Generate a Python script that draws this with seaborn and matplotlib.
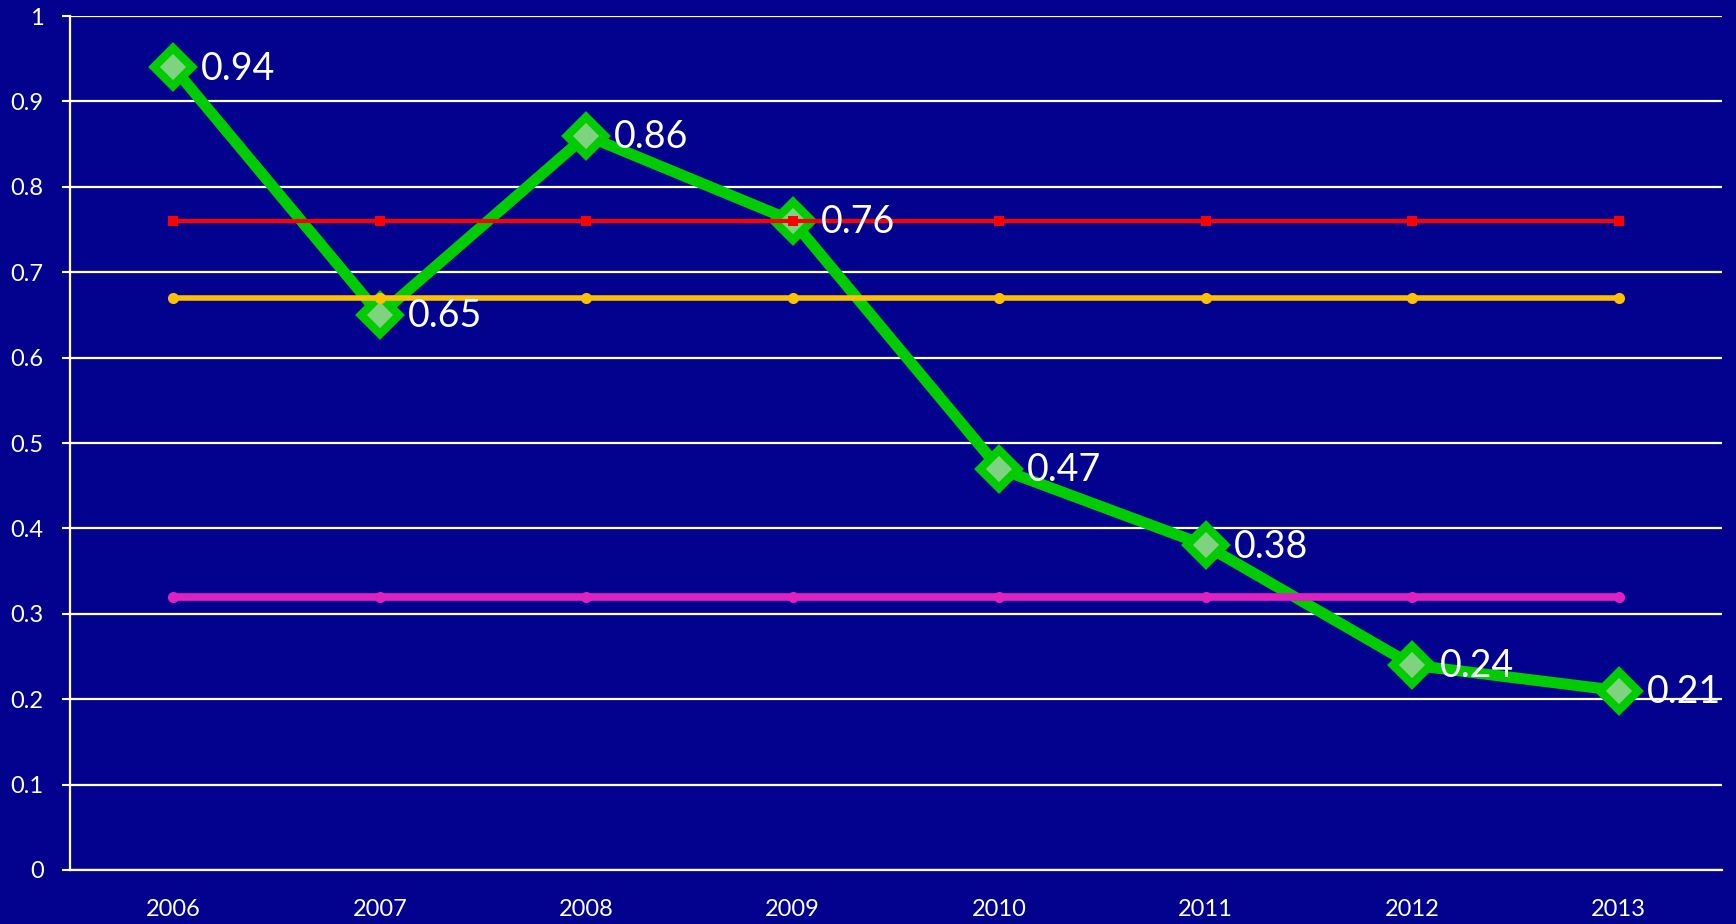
import numpy as np
import pandas as pd
import matplotlib
matplotlib.use("Agg")
import matplotlib.pyplot as plt
import seaborn as sns

# ---------------------------------------------------------------------------
# Data
# ---------------------------------------------------------------------------
years = [2006, 2007, 2008, 2009, 2010, 2011, 2012, 2013]
main_values = [0.94, 0.65, 0.86, 0.76, 0.47, 0.38, 0.24, 0.21]
red_values = [0.76] * 8
yellow_values = [0.67] * 8
magenta_values = [0.32] * 8
y_ticks = [0, 0.1, 0.2, 0.3, 0.4, 0.5, 0.6, 0.7, 0.8, 0.9, 1]
y_tick_labels = ["0", "0.1", "0.2", "0.3", "0.4", "0.5", "0.6", "0.7", "0.8", "0.9", "1"]

bg = "#03028F"

sns.set_style("white")
plt.rcParams['font.family'] = ['Lato', 'DejaVu Sans']

fig = plt.figure(figsize=(17.36, 9.24), dpi=100, facecolor=bg)
ax = fig.add_axes([70 / 1736, 1 - 870 / 924, (1722 - 70) / 1736, (870 - 16) / 924])
ax.set_facecolor(bg)

df = pd.DataFrame({"year": years, "main": main_values, "red": red_values,
                   "yellow": yellow_values, "magenta": magenta_values})

# green series (drawn first, the flat lines sit on top of it)
sns.lineplot(data=df, x="year", y="main", ax=ax, color="#00CC00", linewidth=8,
             marker="D", markersize=19, markerfacecolor="#7FD27F",
             markeredgecolor="#00CC00", markeredgewidth=6, zorder=3)
sns.lineplot(data=df, x="year", y="magenta", ax=ax, color="#E020C0", linewidth=5.5,
             marker="o", markersize=8, markeredgewidth=0, zorder=4)
sns.lineplot(data=df, x="year", y="yellow", ax=ax, color="#FFC000", linewidth=4,
             marker="o", markersize=8, markeredgewidth=0, zorder=4)
sns.lineplot(data=df, x="year", y="red", ax=ax, color="#FF0000", linewidth=3,
             marker="s", markersize=7, markeredgewidth=0, zorder=4)

for x, v in zip(years, main_values):
    ax.annotate(f"{v:.2f}", (x, v), xytext=(20, -1), textcoords="offset points",
                ha="left", va="center", color="white", fontsize=27, zorder=5)

ax.set_xlim(years[0] - 0.5, years[-1] + 0.5)
ax.set_ylim(0, 1)
ax.set_yticks(y_ticks)
ax.set_yticklabels(y_tick_labels)
ax.set_xticks(years)
ax.set_xticklabels([str(y) for y in years])
ax.set_xticks(np.arange(years[0] - 0.5, years[-1] + 1, 1), minor=True)
ax.set_xlabel("")
ax.set_ylabel("")

ax.grid(axis="y", color="white", linewidth=1.6, zorder=1)
ax.set_axisbelow(True)
ax.tick_params(axis="x", which="major", length=0, pad=21, labelsize=17, colors="white")
ax.tick_params(axis="x", which="minor", length=6, width=1.5, color="white", direction="out")
ax.tick_params(axis="y", length=6, width=1.5, color="white", pad=13, labelsize=17,
               labelcolor="white", left=True)

for side in ["top", "right"]:
    ax.spines[side].set_visible(False)
for side in ["left", "bottom"]:
    ax.spines[side].set_color("white")
    ax.spines[side].set_linewidth(1.6)

fig.savefig("out.png", dpi=100, facecolor=bg)
